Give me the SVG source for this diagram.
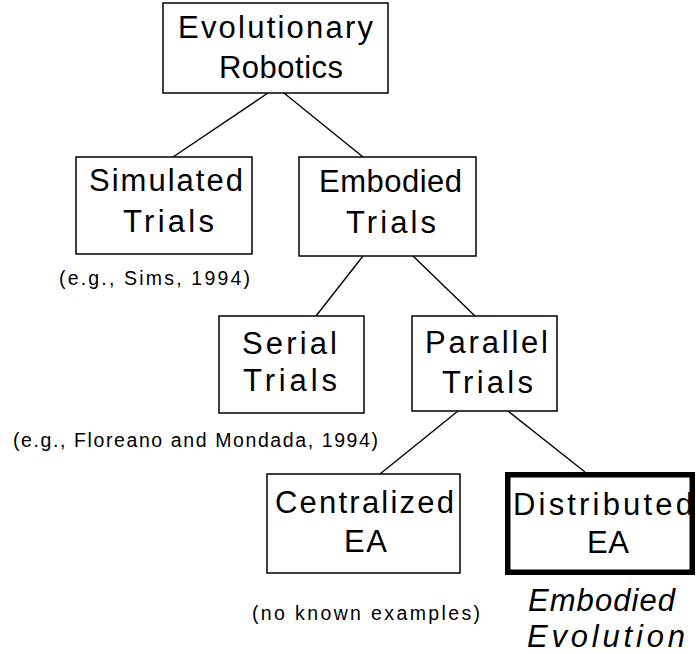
<svg xmlns="http://www.w3.org/2000/svg" width="696" height="654" viewBox="0 0 696 654">
<style>
.box{fill:#fff;stroke:#000;stroke-width:1.5}
.thick{fill:#fff;stroke:#000;stroke-width:5.5}
.t{font-family:"Liberation Sans",Arial,sans-serif;font-size:31px;fill:#000}
.c{font-family:"Liberation Sans",Arial,sans-serif;font-size:19.5px;fill:#000}
.i{font-family:"Liberation Sans",Arial,sans-serif;font-size:31px;font-style:italic;fill:#000}
.edges line{stroke:#000;stroke-width:1.4}
</style>
<rect width="696" height="654" fill="#fff"/>
<g id="connectors" class="edges">
<line x1="268" y1="93" x2="173" y2="157"/>
<line x1="284" y1="93" x2="363" y2="157"/>
<line x1="363" y1="256" x2="316" y2="316"/>
<line x1="413" y1="256" x2="475" y2="316"/>
<line x1="458" y1="411" x2="380" y2="474"/>
<line x1="508" y1="411" x2="585" y2="472"/>
</g>
<g id="evolutionary-robotics">
<rect class="box" x="163" y="3" width="225" height="90"/>
<text class="t" x="178" y="38" textLength="195" lengthAdjust="spacing">Evolutionary</text>
<text class="t" x="219" y="78" textLength="124" lengthAdjust="spacing">Robotics</text>
</g>
<g id="simulated-trials">
<rect class="box" x="76" y="157" width="176" height="97"/>
<text class="t" x="89" y="191" textLength="154" lengthAdjust="spacing">Simulated</text>
<text class="t" x="123" y="232" textLength="91" lengthAdjust="spacing">Trials</text>
</g>
<g id="embodied-trials">
<rect class="box" x="299" y="157" width="177" height="99"/>
<text class="t" x="319" y="192" textLength="143" lengthAdjust="spacing">Embodied</text>
<text class="t" x="346" y="233" textLength="90" lengthAdjust="spacing">Trials</text>
</g>
<g id="serial-trials">
<rect class="box" x="219" y="316" width="145" height="97"/>
<text class="t" x="242" y="354" textLength="95" lengthAdjust="spacing">Serial</text>
<text class="t" x="243" y="391" textLength="94" lengthAdjust="spacing">Trials</text>
</g>
<g id="parallel-trials">
<rect class="box" x="412" y="316" width="145" height="95"/>
<text class="t" x="425" y="353" textLength="123" lengthAdjust="spacing">Parallel</text>
<text class="t" x="442" y="393" textLength="91" lengthAdjust="spacing">Trials</text>
</g>
<g id="centralized-ea">
<rect class="box" x="267" y="474" width="193" height="99"/>
<text class="t" x="275" y="513" textLength="179" lengthAdjust="spacing">Centralized</text>
<text class="t" x="344" y="552" textLength="43" lengthAdjust="spacing">EA</text>
</g>
<g id="distributed-ea">
<rect class="thick" x="507.75" y="474.75" width="184.5" height="97.5"/>
<text class="t" x="513" y="515" textLength="180" lengthAdjust="spacing">Distributed</text>
<text class="t" x="587" y="553" textLength="42" lengthAdjust="spacing">EA</text>
</g>
<g id="captions">
<text class="c" x="59" y="285" textLength="191" lengthAdjust="spacing">(e.g., Sims, 1994)</text>
<text class="c" x="13" y="447" textLength="365" lengthAdjust="spacing">(e.g., Floreano and Mondada, 1994)</text>
<text class="c" x="252" y="620" textLength="228" lengthAdjust="spacing">(no known examples)</text>
<text class="i" x="528" y="611" textLength="147" lengthAdjust="spacing">Embodied</text>
<text class="i" x="527" y="647" textLength="158" lengthAdjust="spacing">Evolution</text>
</g>
</svg>
